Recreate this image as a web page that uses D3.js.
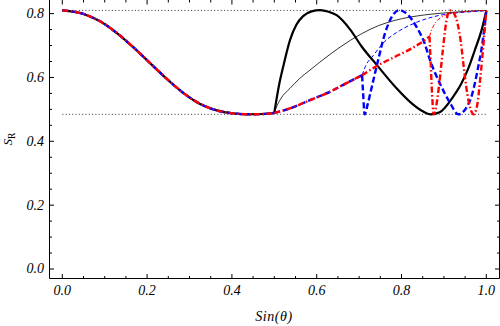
<!DOCTYPE html>
<html>
<head>
<meta charset="utf-8">
<script src="https://cdn.jsdelivr.net/npm/d3@7"></script>
<style>
  body { margin: 0; background: #fff; }
  svg { display: block; }
  .tick text { font-family: "Liberation Serif", serif; font-style: italic; font-size: 14px; fill: #000; }
  .title { font-family: "Liberation Serif", serif; font-size: 14px; fill: #000; }
</style>
</head>
<body>
<div id="chart"></div>
<script>
// values, as [sin(theta), S_R]
// common part, all curves lie on it up to 0.5
var basePart = [[0, 0.810], [0.05, 0.799], [0.089, 0.776], [0.128, 0.740], [0.168, 0.694],
    [0.207, 0.645], [0.246, 0.596], [0.285, 0.552], [0.325, 0.517], [0.364, 0.497],
    [0.403, 0.4875], [0.44, 0.4847], [0.474, 0.4855], [0.5, 0.489]];

// lower branch shared by blue and red
var lowerA = [[0.5, 0.489], [0.537, 0.503], [0.584, 0.529], [0.631, 0.555], [0.667, 0.58], [0.707, 0.607]];
var lowerB = [[0.707, 0.607], [0.7415, 0.636], [0.785, 0.665], [0.824, 0.691], [0.855, 0.717], [0.866, 0.728]];

var blackThick = [[0.5, 0.489], [0.505, 0.53], [0.511, 0.575], [0.521, 0.634], [0.537, 0.717], [0.552, 0.765],
    [0.568, 0.792], [0.588, 0.807], [0.608, 0.811], [0.628, 0.806], [0.647, 0.795], [0.679, 0.75],
    [0.706, 0.697], [0.745, 0.634], [0.785, 0.571], [0.824, 0.519], [0.85, 0.494], [0.868, 0.4845],
    [0.89, 0.491], [0.922, 0.54], [0.94, 0.578], [0.958, 0.63], [0.973, 0.686], [0.989, 0.749], [1.0, 0.81]];

var blackThin = [[0.5, 0.489], [0.505, 0.507], [0.515, 0.533], [0.537, 0.566], [0.56, 0.597], [0.584, 0.623],
    [0.631, 0.672], [0.679, 0.716], [0.706, 0.737], [0.745, 0.762], [0.785, 0.779], [0.855, 0.796],
    [0.9, 0.802], [0.95, 0.807], [1.0, 0.81]];

var blueThick = [[0.707, 0.607], [0.7095, 0.55], [0.713, 0.4845], [0.72, 0.515], [0.73, 0.571], [0.745, 0.655],
    [0.761, 0.738], [0.777, 0.79], [0.795, 0.811], [0.816, 0.795], [0.836, 0.757], [0.855, 0.705],
    [0.867, 0.655], [0.891, 0.58], [0.915, 0.519], [0.934, 0.4845], [0.962, 0.529], [0.981, 0.634],
    [0.99, 0.70], [1.0, 0.808]];

var blueThin = [[0.707, 0.607], [0.715, 0.635], [0.733, 0.668], [0.757, 0.708], [0.796, 0.747], [0.836, 0.773],
    [0.875, 0.79], [0.914, 0.80], [0.955, 0.805], [1.0, 0.809]];

var redThick = [[0.866, 0.728], [0.869, 0.64], [0.872, 0.55], [0.876, 0.4845], [0.881, 0.505], [0.889, 0.58],
    [0.897, 0.68], [0.905, 0.77], [0.914, 0.81], [0.924, 0.80], [0.932, 0.77], [0.94, 0.71], [0.947, 0.63],
    [0.955, 0.55], [0.963, 0.5], [0.97, 0.4845], [0.978, 0.51], [0.986, 0.6], [0.993, 0.7], [1.0, 0.81]];

var redThin = [[0.866, 0.728], [0.87, 0.745], [0.876, 0.763], [0.884, 0.778], [0.895, 0.79], [0.91, 0.798],
    [0.93, 0.803], [0.96, 0.807], [1.0, 0.81]];

// dotted guide levels
var guideLevels = [0.81, 0.4845];

var xTicks = [0, 0.2, 0.4, 0.6, 0.8, 1.0];
var yTicks = [0, 0.2, 0.4, 0.6, 0.8];
var xMinor = [0.05, 0.1, 0.15, 0.25, 0.3, 0.35, 0.45, 0.5, 0.55, 0.65, 0.7, 0.75, 0.85, 0.9, 0.95];
var yMinor = [0.05, 0.1, 0.15, 0.25, 0.3, 0.35, 0.45, 0.5, 0.55, 0.65, 0.7, 0.75];

var svgWidth = 500, svgHeight = 326;
var frameLeft = 49.5, frameRight = 499.5, frameTop = -0.5, frameBottom = 278.5;

var svg = d3.select("#chart").append("svg")
    .attr("width", svgWidth)
    .attr("height", svgHeight);

var x = d3.scaleLinear().domain([-0.0302, 1.0311]).range([frameLeft, frameRight]);
var y = d3.scaleLinear().domain([-0.0298, 0.8442]).range([frameBottom, frameTop]);

// frame with inward ticks on all four sides
function majorMinor(g, axisFn, scale, major, minor, labels) {
    var a = axisFn(scale).tickValues(major).tickSizeInner(-4.5).tickSizeOuter(0).offset(0);
    if (labels) a.tickFormat(d3.format(".1f")); else a.tickFormat("");
    g.call(a);
    var m = axisFn(scale).tickValues(minor).tickSizeInner(-2.5).tickSizeOuter(0).tickFormat("").offset(0);
    g.append("g").call(m).select(".domain").remove();
}

var gLeft = svg.append("g").attr("transform", `translate(${frameLeft},0)`);
majorMinor(gLeft, d3.axisLeft, y, yTicks, yMinor, true);
gLeft.call(g => g.selectAll(".tick text").attr("x", -5.5));

var gBottom = svg.append("g").attr("transform", `translate(0,${frameBottom})`);
majorMinor(gBottom, d3.axisBottom, x, xTicks, xMinor, true);
gBottom.call(g => g.selectAll(".tick text").attr("y", 7));

var gRight = svg.append("g").attr("transform", `translate(${frameRight},0)`);
majorMinor(gRight, d3.axisRight, y, yTicks, yMinor, false);

var gTop = svg.append("g").attr("transform", "translate(0,0)");
majorMinor(gTop, d3.axisTop, x, xTicks, xMinor, false);
gTop.select(".domain").remove();

svg.selectAll(".tick line, .domain").attr("stroke", "#000").attr("stroke-width", 1);

// dotted guides
svg.selectAll(".guide")
    .data(guideLevels)
    .enter()
    .append("line")
    .attr("x1", x(0)).attr("x2", x(1))
    .attr("y1", d => y(d)).attr("y2", d => y(d))
    .attr("stroke", "#444")
    .attr("stroke-width", 1)
    .attr("stroke-dasharray", "1.1 2.2");

var line = d3.line()
    .x(d => x(d[0]))
    .y(d => y(d[1]))
    .curve(d3.curveMonotoneX);

function draw(parts, color, width, dash) {
    parts.forEach(function(p) {
        svg.append("path")
            .attr("d", line(p))
            .attr("fill", "none")
            .attr("stroke", color)
            .attr("stroke-width", width)
            .attr("stroke-dasharray", dash)
            .attr("stroke-linejoin", "round");
    });
}

draw([blackThin], "#000", 0.8, null);
draw([blueThin], "#0000ff", 1, "4 2.5");
draw([redThin], "#ff0000", 1, "4 2 1 2");
draw([basePart, blackThick], "#000", 2.2, null);
draw([basePart, lowerA, blueThick], "#0000ff", 2.4, "6 3");
draw([basePart, lowerA, lowerB, redThick], "#ff0000", 2.4, "6 2.5 1.5 2.5");

// axis titles
svg.append("text")
    .attr("class", "title")
    .attr("x", 274)
    .attr("y", 321)
    .attr("text-anchor", "middle")
    .style("font-style", "italic")
    .style("letter-spacing", "0.6px")
    .text("Sin(θ)");

var yTitle = svg.append("text")
    .attr("class", "title")
    .attr("transform", "translate(12,139) rotate(-90)")
    .attr("text-anchor", "middle");
yTitle.append("tspan").style("font-style", "italic").style("font-size", "13px").text("S");
yTitle.append("tspan").attr("dy", 3).style("font-size", "9.5px").text("R");
</script>
</body>
</html>
